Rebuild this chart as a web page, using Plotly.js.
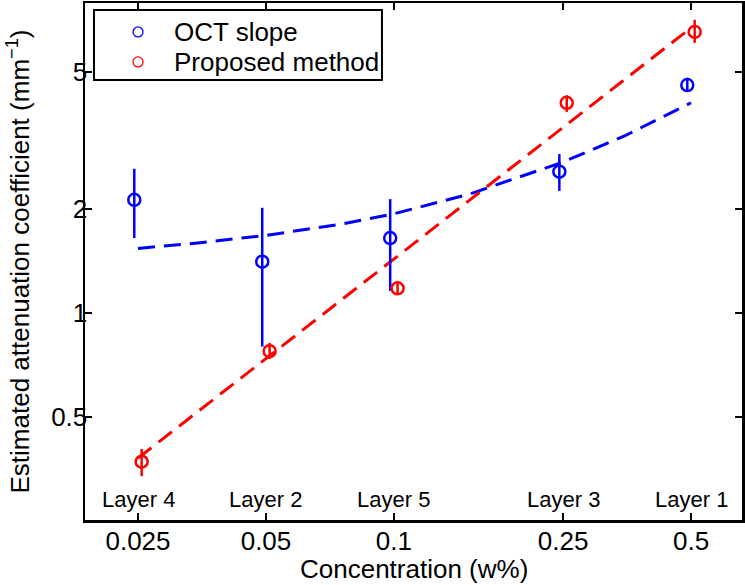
<!DOCTYPE html>
<html>
<head>
<meta charset="utf-8">
<script src="https://cdn.plot.ly/plotly-3.0.1.min.js"></script>
<style>html,body{margin:0;padding:0;background:#fff;}#chart{width:745px;height:585px;}</style>
</head>
<body>
<div id="chart"></div>
<script>
// ---- data ----
const concentrations = [0.025, 0.05, 0.1, 0.25, 0.5];
const layerLabels = ["Layer 4", "Layer 2", "Layer 5", "Layer 3", "Layer 1"];
const xTickVals = [0.025, 0.05, 0.1, 0.25, 0.5];
const xTickText = ["0.025", "0.05", "0.1", "0.25", "0.5"];
const yTickVals = [0.5, 1, 2, 5];
const yTickText = ["0.5", "1", "2", "5"];
const seriesNames = ["OCT slope", "Proposed method"];
const xTitle = "Concentration (w%)";
const yTitle = "Estimated attenuation coefficient (mm<sup>−1</sup>)";

// OCT slope (blue), plotted slightly left of each concentration
const octX = [0.0245, 0.049, 0.098, 0.245, 0.49];
const octY = [2.13, 1.41, 1.65, 2.57, 4.58];
const octHi = [2.62, 2.02, 2.14, 2.89, 4.81];
const octLo = [1.65, 0.80, 1.16, 2.26, 4.38];

// Proposed method (red), plotted slightly right
const propX = [0.0255, 0.051, 0.102, 0.255, 0.51];
const propY = [0.371, 0.776, 1.18, 4.07, 6.53];
const propHi = [0.404, 0.82, 1.23, 4.28, 7.08];
const propLo = [0.337, 0.736, 1.14, 3.83, 6.07];

// fitted curves
const octFitX = [0.025, 0.035, 0.05, 0.075, 0.1, 0.15, 0.25, 0.35, 0.5];
const octFitY = [1.54, 1.60, 1.68, 1.81, 1.94, 2.21, 2.74, 3.27, 4.07];
const propFitX = [0.025, 0.05, 0.1, 0.25, 0.5];
const propFitY = [0.38, 0.738, 1.43, 3.45, 6.71];

const BLUE = "rgb(0,0,255)";
const RED = "rgb(255,0,0)";
const FONT = "Liberation Sans, Arial, Helvetica, sans-serif";

const diff = (a, b) => a.map((v, i) => v - b[i]);

const traces = [
  {
    x: octFitX, y: octFitY, mode: "lines", showlegend: false, hoverinfo: "skip",
    line: {color: BLUE, width: 3, dash: "17px,9px"}
  },
  {
    x: propFitX, y: propFitY, mode: "lines", showlegend: false, hoverinfo: "skip",
    line: {color: RED, width: 3, dash: "17px,9px"}
  },
  {
    x: octX, y: octY, mode: "markers", name: seriesNames[0], showlegend: false,
    marker: {symbol: "circle-open", size: 12, color: BLUE, line: {width: 2.5, color: BLUE}},
    error_y: {type: "data", symmetric: false, array: diff(octHi, octY), arrayminus: diff(octY, octLo),
              color: BLUE, thickness: 2.5, width: 0}
  },
  {
    x: propX, y: propY, mode: "markers", name: seriesNames[1], showlegend: false,
    marker: {symbol: "circle-open", size: 12, color: RED, line: {width: 2.5, color: RED}},
    error_y: {type: "data", symmetric: false, array: diff(propHi, propY), arrayminus: diff(propY, propLo),
              color: RED, thickness: 2.5, width: 0}
  }
];

const annotations = concentrations.map((c, i) => ({
  x: Math.log10(c), y: 0.039, xref: "x", yref: "paper",
  text: layerLabels[i], showarrow: false, xanchor: "center", yanchor: "middle",
  font: {family: FONT, size: 22, color: "#000"}
}));

// axis titles
annotations.push({
  x: 0.5, y: -0.1277, xref: "paper", yref: "paper", text: xTitle, showarrow: false,
  xanchor: "center", yanchor: "bottom", font: {family: FONT, size: 26, color: "#000"}
});
annotations.push({
  x: -0.1005, y: 0.5, xref: "paper", yref: "paper", text: yTitle, showarrow: false,
  textangle: -90, xanchor: "center", yanchor: "middle", font: {family: FONT, size: 26, color: "#000"}
});

// legend box (drawn as a framed box in the top-left corner)
const legendRows = [0.944, 0.886];
const legendColors = [BLUE, RED];
seriesNames.forEach((n, i) => annotations.push({
  x: 0.1324, y: legendRows[i], xref: "paper", yref: "paper",
  text: n, showarrow: false, xanchor: "left", yanchor: "middle",
  font: {family: FONT, size: 26, color: "#000"}
}));
const shapes = [{
  type: "rect", xref: "paper", yref: "paper", x0: 0.0137, x1: 0.452, y0: 0.851, y1: 0.9865,
  line: {color: "#000", width: 2}, fillcolor: "#fff", layer: "above"
}];
legendColors.forEach((col, i) => shapes.push({
  type: "circle", xref: "paper", yref: "paper", xsizemode: "pixel", ysizemode: "pixel",
  xanchor: 0.0807, yanchor: legendRows[i], x0: -5, x1: 5, y0: -5, y1: 5,
  line: {color: col, width: 1.3}, layer: "above"
}));

const layout = {
  width: 745, height: 585,
  margin: {l: 85, r: 3, t: 3, b: 65},
  paper_bgcolor: "#fff", plot_bgcolor: "#fff",
  font: {family: FONT, size: 26, color: "#000"},
  showlegend: false,
  xaxis: {
    type: "log", range: [Math.log10(0.01876), Math.log10(0.659)],
    tickvals: xTickVals, ticktext: xTickText,
    ticks: "inside", ticklen: 7, tickwidth: 2, tickcolor: "#000",
    showline: true, linewidth: 2.5, linecolor: "#000", mirror: "allticks",
    showgrid: false, zeroline: false, ticklabelstandoff: -4,
    tickfont: {family: FONT, size: 26, color: "#000"}
  },
  yaxis: {
    type: "log", range: [Math.log10(0.2515), Math.log10(7.92)],
    tickvals: yTickVals, ticktext: yTickText,
    ticks: "inside", ticklen: 7, tickwidth: 2, tickcolor: "#000",
    showline: true, linewidth: 2.5, linecolor: "#000", mirror: "allticks",
    showgrid: false, zeroline: false, ticklabelstandoff: -10,
    tickfont: {family: FONT, size: 26, color: "#000"}
  },
  annotations: annotations,
  shapes: shapes
};

Plotly.newPlot("chart", traces, layout, {staticPlot: true, displayModeBar: false});
</script>
</body>
</html>
